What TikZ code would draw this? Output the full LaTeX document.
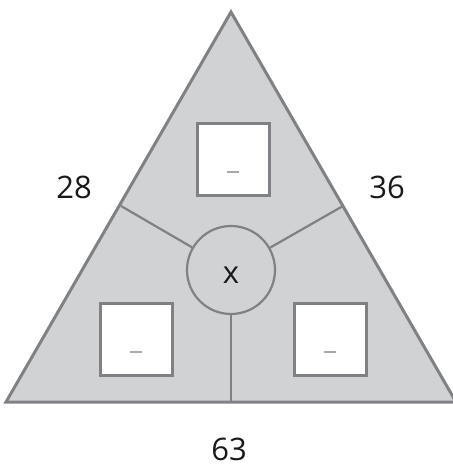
\documentclass[tikz,border=0pt]{standalone}
\usepackage{fontspec}
\setmainfont{Open Sans}
\definecolor{fillgray}{HTML}{D1D2D4}
\definecolor{linegray}{HTML}{808184}
\definecolor{dashgray}{HTML}{A7A9AC}
\begin{document}
\begin{tikzpicture}[x=1pt,y=-1pt,
  lbl/.style={font=\fontsize{31}{36}\selectfont, text=black!90, inner sep=0pt, anchor=base, text depth=0pt},
  ansbox/.style={draw=linegray, line width=3pt, fill=white, minimum width=72pt, minimum height=72pt, inner sep=0pt},
  spoke/.style={draw=linegray, line width=2.2pt}]
\useasboundingbox (0,0) rectangle (452,468);
\coordinate (A) at (231,12);
\coordinate (B) at (6,402);
\coordinate (C) at (456,402);
\draw[linegray, line width=3pt, fill=fillgray, line join=miter] (A) -- (B) -- (C) -- cycle;
\node[circle, draw=linegray, line width=2.2pt, minimum size=88pt, inner sep=0pt] (x) at (231,270) {};
\node[lbl] (xl) at (231,283) {x};
\coordinate (L) at (121,206);
\coordinate (R) at (343,206);
\coordinate (D) at (231,402);
\draw[spoke] (x) -- (L);
\draw[spoke] (x) -- (R);
\draw[spoke] (x.south) -- (D);
\node[ansbox] (t) at (233,159.5) {};
\node[ansbox] (bl) at (136,339.5) {};
\node[ansbox] (br) at (330,339.5) {};
\foreach \n in {t,bl,br}{
  \draw[dashgray, line width=1.3pt] ([xshift=-6pt,yshift=-12.5pt]\n.center) -- ([xshift=6pt,yshift=-12.5pt]\n.center);
}
\node[lbl] (l28) at (74,198) {28};
\node[lbl] (l36) at (387,198) {36};
\node[lbl] (l63) at (229,460) {63};
\end{tikzpicture}
\end{document}
